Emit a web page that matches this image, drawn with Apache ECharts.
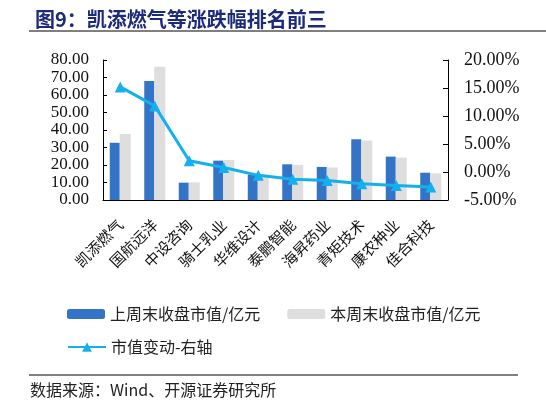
<!DOCTYPE html>
<html>
<head>
<meta charset="utf-8">
<script src="https://cdn.jsdelivr.net/npm/echarts@6/dist/echarts.min.js"></script>
<style>
html, body { margin: 0; padding: 0; background: #fff; }
#chart { width: 546px; height: 405px; }
</style>
</head>
<body>
<div id="chart"></div>
<script>
var categories = ['凯添燃气', '国航远洋', '中设咨询', '骑士乳业', '华维设计', '泰鹏智能', '海昇药业', '青矩技术', '康农种业', '佳合科技'];
var lastWeek = [32.7, 68.0, 9.9, 22.5, 14.5, 20.4, 18.9, 34.7, 24.8, 15.6];
var thisWeek = [37.7, 76.2, 10.1, 22.9, 14.4, 20.1, 18.6, 34.0, 24.2, 15.2];
var change = [15.2, 11.8, 2.0, 0.8, -0.6, -1.3, -1.5, -2.1, -2.4, -2.7];

var cjk = '"Noto Sans CJK SC", sans-serif';
var serif = '"Liberation Serif", "DejaVu Serif", serif';

var chart = echarts.init(document.getElementById('chart'));
chart.setOption({
	animation: false,
	title: {
		text: '图9：凯添燃气等涨跌幅排名前三',
		left: 30,
		top: 4,
		textStyle: {
			fontFamily: cjk,
			fontSize: 20,
			fontWeight: 'bold',
			color: '#1c2a7c'
		}
	},
	graphic: [{
		type: 'line',
		shape: { x1: 29, y1: 31, x2: 546, y2: 31 },
		style: { stroke: '#000', lineWidth: 1 }
	}, {
		type: 'line',
		shape: { x1: 29, y1: 375, x2: 518, y2: 375 },
		style: { stroke: '#000', lineWidth: 1 }
	}, {
		type: 'text',
		left: 30,
		top: 382,
		style: {
			text: '数据来源：Wind、开源证券研究所',
			font: '16px ' + cjk,
			fill: '#222'
		}
	}],
	legend: [{
		left: 62,
		top: 301,
		itemWidth: 38,
		itemHeight: 10,
		itemGap: 27,
		data: ['上周末收盘市值/亿元', '本周末收盘市值/亿元'],
		textStyle: { fontFamily: cjk, fontSize: 16, color: '#222' }
	}, {
		left: 62,
		top: 334,
		itemWidth: 38,
		itemHeight: 12,
		data: ['市值变动-右轴'],
		textStyle: { fontFamily: cjk, fontSize: 16, color: '#222' }
	}],
	grid: {
		left: 103,
		right: 98,
		top: 60,
		bottom: 205
	},
	xAxis: {
		type: 'category',
		data: categories,
		axisLine: { lineStyle: { color: '#000', width: 1 } },
		axisTick: { inside: true, length: 5, lineStyle: { color: '#000' } },
		axisLabel: {
			rotate: 45,
			interval: 0,
			margin: 22,
			fontFamily: cjk,
			fontSize: 15,
			color: '#111'
		}
	},
	yAxis: [{
		type: 'value',
		min: 0,
		max: 80,
		interval: 10,
		splitLine: { show: false },
		axisLine: { show: true, lineStyle: { color: '#000' } },
		axisTick: { show: true, inside: true, length: 4, lineStyle: { color: '#000' } },
		axisLabel: {
			margin: 14,
			fontFamily: serif,
			fontSize: 17,
			color: '#111',
			formatter: function(v) { return v.toFixed(2); }
		}
	}, {
		type: 'value',
		min: -5,
		max: 20,
		interval: 5,
		splitLine: { show: false },
		axisLine: { show: true, lineStyle: { color: '#000' } },
		axisTick: { show: true, inside: true, length: 5, lineStyle: { color: '#000' } },
		axisLabel: {
			margin: 16,
			fontFamily: serif,
			fontSize: 18,
			color: '#111',
			formatter: function(v) { return v.toFixed(2) + '%'; }
		}
	}],
	series: [{
		name: '上周末收盘市值/亿元',
		type: 'bar',
		data: lastWeek,
		barWidth: 10,
		barGap: '0%',
		itemStyle: { color: '#3374c6' }
	}, {
		name: '本周末收盘市值/亿元',
		type: 'bar',
		data: thisWeek,
		barWidth: 11,
		itemStyle: { color: '#dedede' }
	}, {
		name: '市值变动-右轴',
		type: 'line',
		yAxisIndex: 1,
		data: change,
		symbol: 'triangle',
		symbolSize: 11,
		lineStyle: { color: '#14b0ee', width: 3 },
		itemStyle: { color: '#14b0ee' }
	}]
});
</script>
</body>
</html>
